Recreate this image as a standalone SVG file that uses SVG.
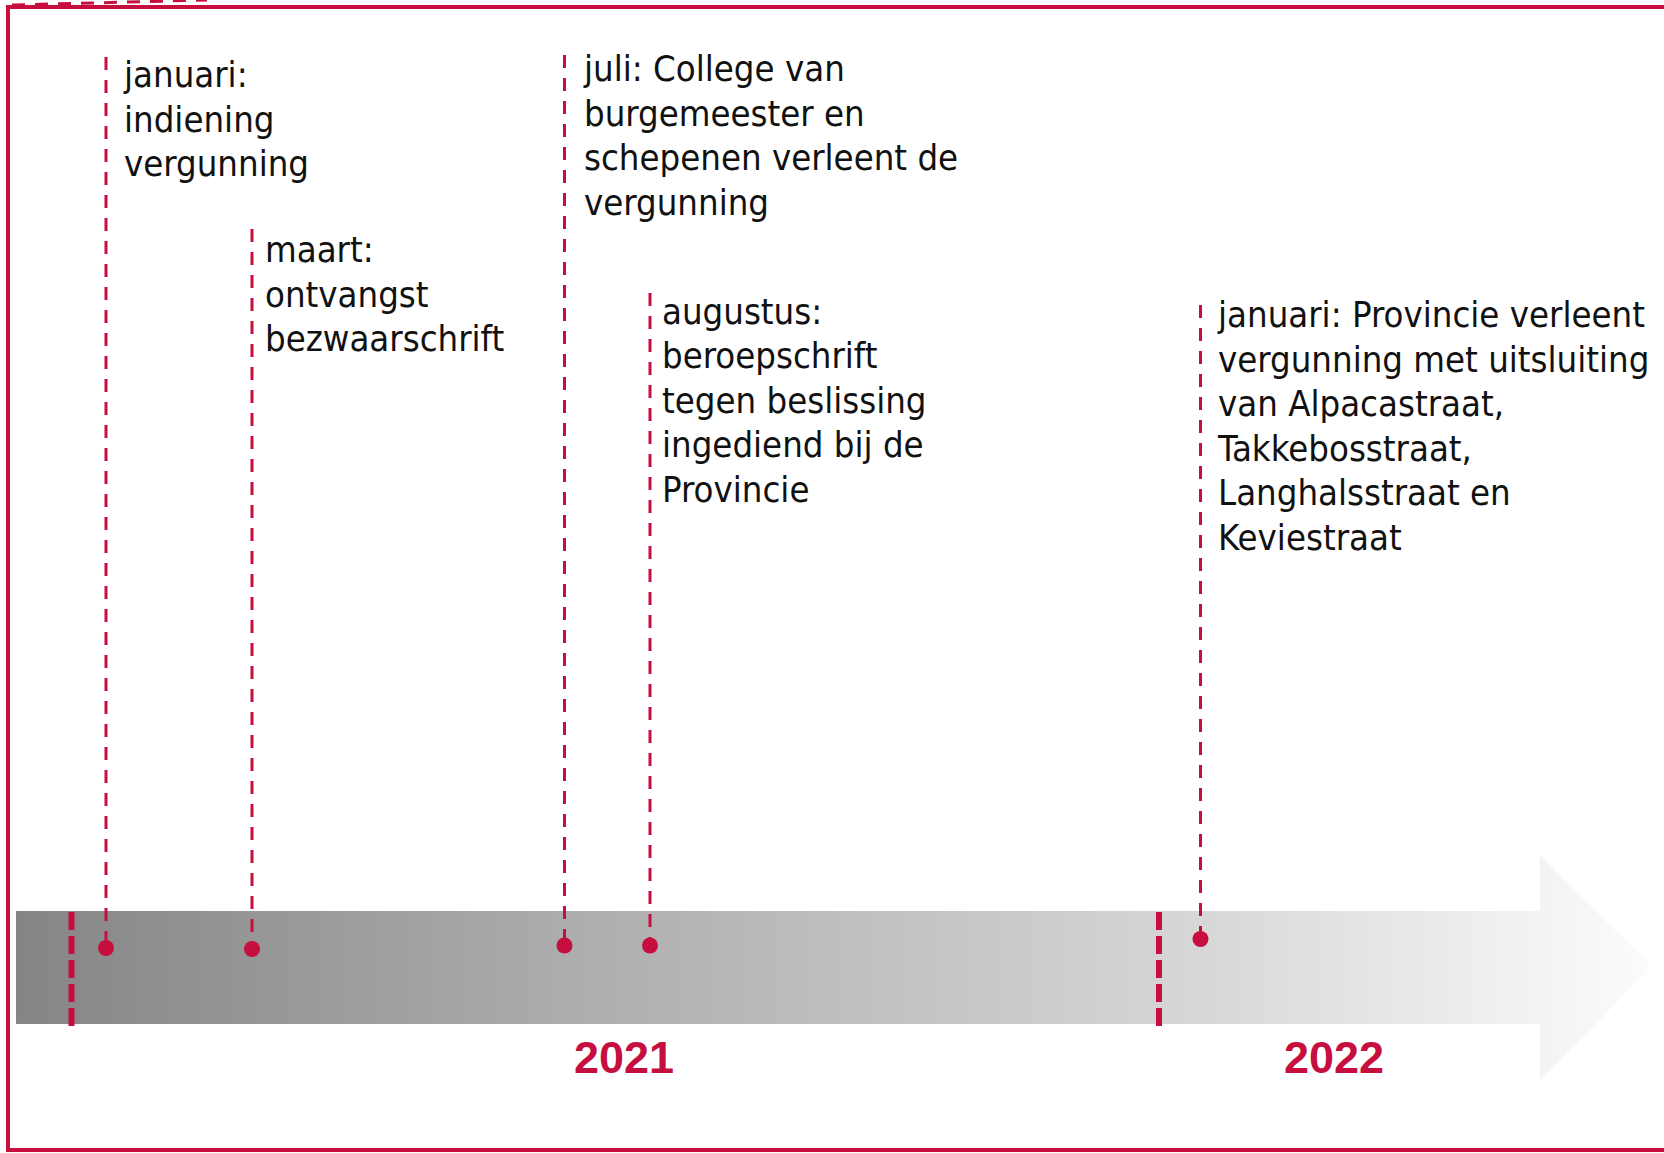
<svg xmlns="http://www.w3.org/2000/svg" width="1664" height="1153" viewBox="0 0 1664 1153">
<defs>
<linearGradient id="barGrad" x1="16" y1="0" x2="1652" y2="0" gradientUnits="userSpaceOnUse">
<stop offset="0" stop-color="#858585"/>
<stop offset="0.35" stop-color="#aeaeae"/>
<stop offset="0.7" stop-color="#d4d4d4"/>
<stop offset="1" stop-color="#fcfcfc"/>
</linearGradient>
<style>
.lbl{font-family:"DejaVu Sans Condensed","DejaVu Sans",sans-serif;font-size:36.2px;fill:#111111;}
.yr{font-family:"Liberation Sans",Arial,sans-serif;font-weight:bold;font-size:45px;fill:#c60f3f;text-anchor:middle;}
.ev{stroke:#c60f3f;stroke-width:3;stroke-dasharray:13 10;fill:none;}
.sep{stroke:#c60f3f;stroke-width:6;stroke-dasharray:18 6;fill:none;}
.dot{fill:#c60f3f;}
</style>
</defs>
<rect x="0" y="0" width="1664" height="1153" fill="#ffffff"/>
<rect id="frame" x="8" y="7" width="1700" height="1143" fill="none" stroke="#c60f3f" stroke-width="4"/>
<line x1="12" y1="5" x2="207" y2="0" stroke="#c60f3f" stroke-width="3" stroke-dasharray="13 10"/>
<g id="timeline-bar">
<polygon points="16,911 1540,911 1540,855 1652,967 1540,1080 1540,1024 16,1024" fill="url(#barGrad)"/>
</g>
<g id="connectors">
<line class="sep" x1="71.5" y1="912" x2="71.5" y2="1027"/>
<line class="sep" x1="1159" y1="912" x2="1159" y2="1027"/>
<line class="ev" x1="106" y1="57" x2="106" y2="946"/>
<line class="ev" x1="252" y1="229" x2="252" y2="947"/>
<line class="ev" x1="564.5" y1="55" x2="564.5" y2="944"/>
<line class="ev" x1="650" y1="293" x2="650" y2="944"/>
<line class="ev" x1="1200.5" y1="305" x2="1200.5" y2="937"/>
</g>
<g id="ev-jan2021">
<circle class="dot" cx="106" cy="948" r="8"/>
<text class="lbl"><tspan x="124" y="87">januari:</tspan><tspan x="124" y="131.6">indiening</tspan><tspan x="124" y="176.2">vergunning</tspan></text>
</g>
<g id="ev-maart2021">
<circle class="dot" cx="252" cy="949" r="8"/>
<text class="lbl"><tspan x="265" y="262">maart:</tspan><tspan x="265" y="306.6">ontvangst</tspan><tspan x="265" y="351.2">bezwaarschrift</tspan></text>
</g>
<g id="ev-juli2021">
<circle class="dot" cx="564.5" cy="945.5" r="8"/>
<text class="lbl"><tspan x="584" y="81">juli: College van</tspan><tspan x="584" y="125.6">burgemeester en</tspan><tspan x="584" y="170.2">schepenen verleent de</tspan><tspan x="584" y="214.8">vergunning</tspan></text>
</g>
<g id="ev-aug2021">
<circle class="dot" cx="650" cy="945.5" r="8"/>
<text class="lbl"><tspan x="662" y="323.5">augustus:</tspan><tspan x="662" y="368.1">beroepschrift</tspan><tspan x="662" y="412.7">tegen beslissing</tspan><tspan x="662" y="457.3">ingediend bij de</tspan><tspan x="662" y="501.9">Provincie</tspan></text>
</g>
<g id="ev-jan2022">
<circle class="dot" cx="1200.5" cy="939" r="8"/>
<text class="lbl"><tspan x="1218" y="327">januari: Provincie verleent</tspan><tspan x="1218" y="371.6">vergunning met uitsluiting</tspan><tspan x="1218" y="416.2">van Alpacastraat,</tspan><tspan x="1218" y="460.8">Takkebosstraat,</tspan><tspan x="1218" y="505.4">Langhalsstraat en</tspan><tspan x="1218" y="550">Keviestraat</tspan></text>
</g>
<g id="year-2021"><text class="yr" x="624" y="1073">2021</text></g>
<g id="year-2022"><text class="yr" x="1334" y="1073">2022</text></g>
</svg>
